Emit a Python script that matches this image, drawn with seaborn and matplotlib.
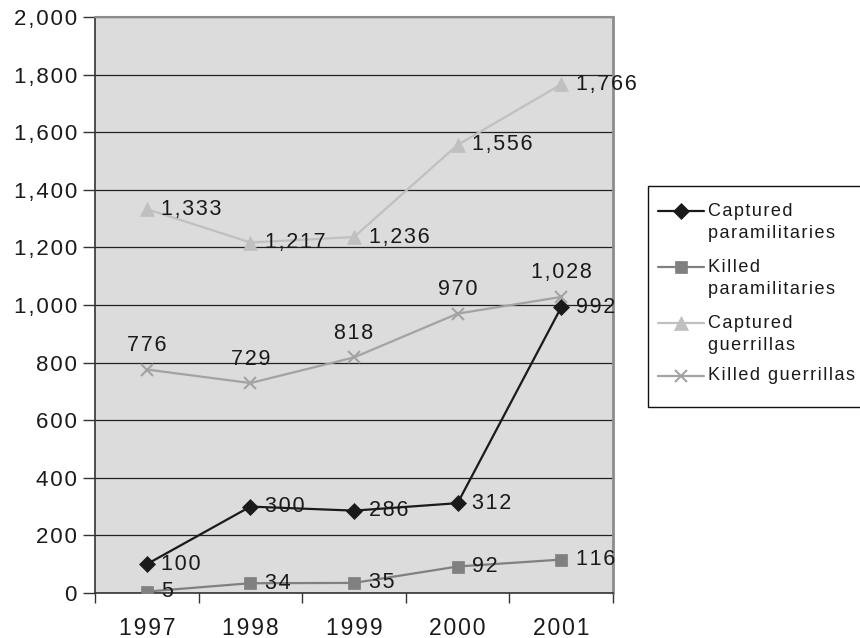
import matplotlib
matplotlib.use("Agg")
import matplotlib.pyplot as plt
import matplotlib.ticker as mticker
from matplotlib.lines import Line2D
from matplotlib.patches import Rectangle
import seaborn as sns
import pandas as pd

years = ["1997", "1998", "1999", "2000", "2001"]
captured_paramilitaries = [100, 300, 286, 312, 992]
killed_paramilitaries = [5, 34, 35, 92, 116]
captured_guerrillas = [1333, 1217, 1236, 1556, 1766]
killed_guerrillas = [776, 729, 818, 970, 1028]

series_names = ["Captured paramilitaries", "Killed paramilitaries",
                "Captured guerrillas", "Killed guerrillas"]
legend_lines = [["Captured", "paramilitaries"], ["Killed", "paramilitaries"],
                ["Captured", "guerrillas"], ["Killed guerrillas"]]
series_values = [captured_paramilitaries, killed_paramilitaries,
                 captured_guerrillas, killed_guerrillas]
colors = ["#1a1a1a", "#808080", "#c0c0c0", "#a3a3a3"]
markers = ["D", "s", "^", "x"]
marker_sizes = [8, 9, 10, 9]

HAIR = "\u200a"


def spaced(s):
    """Widen tracking by putting a hair space between characters."""
    return HAIR.join(s)


rows = []
for name, vals in zip(series_names, series_values):
    for i, v in enumerate(vals):
        rows.append({"pos": i, "value": v, "series": name})
df = pd.DataFrame(rows)

sns.set_theme(style="white")
plt.rcParams["font.family"] = ["Liberation Sans", "DejaVu Sans"]

W, H = 860, 638
fig = plt.figure(figsize=(W / 100, H / 100), dpi=100)
ax = fig.add_axes([95 / W, 45 / H, 518 / W, 576 / H])
ax.set_facecolor("#dcdcdd")

for name, col, mk, ms in zip(series_names, colors, markers, marker_sizes):
    sub = df[df["series"] == name]
    sns.lineplot(data=sub, x="pos", y="value", ax=ax, color=col, marker=mk,
                 markersize=ms, markeredgecolor=col,
                 markeredgewidth=1.5 if mk == "x" else 0.5,
                 linewidth=1.6, legend=False, zorder=3)

# value labels
label_size = 15.5
text_color = "#1a1a1a"
for name, vals in zip(series_names, series_values):
    for i, v in enumerate(vals):
        txt = spaced(f"{v:,}")
        if name == "Killed guerrillas":
            ax.annotate(txt, (i, v), xytext=(0, 13.3), textcoords="offset points",
                        ha="center", va="baseline", fontsize=label_size, color=text_color)
        else:
            ax.annotate(txt, (i, v), xytext=(10.5, 0), textcoords="offset points",
                        ha="left", va="center", fontsize=label_size, color=text_color)

ax.set_xlim(-0.5, 4.5)
ax.set_ylim(0, 2000)
ax.yaxis.set_major_locator(mticker.MultipleLocator(200))
ax.yaxis.set_major_formatter(mticker.FuncFormatter(lambda v, p: spaced(f"{int(v):,}")))
ax.grid(axis="y", color="#222222", linewidth=0.9)
ax.set_axisbelow(True)

ax.set_xticks(range(len(years)))
ax.set_xticklabels([spaced(y) for y in years])
ax.set_xticks([i + 0.5 for i in range(-1, len(years))], minor=True)
ax.tick_params(axis="x", which="major", length=0, pad=17, labelsize=16.5, colors=text_color)
ax.tick_params(axis="x", which="minor", length=7, width=1, color="#333333",
               direction="out", bottom=True)
ax.tick_params(axis="y", length=9, width=1, color="#333333", direction="out", left=True,
               labelsize=16, colors=text_color, pad=4)
ax.set_xlabel("")
ax.set_ylabel("")

for side in ["left", "bottom"]:
    ax.spines[side].set_color("#333333")
    ax.spines[side].set_linewidth(1.2)
ax.spines["right"].set_color("#8c8c8c")
ax.spines["right"].set_linewidth(2)
ax.spines["top"].set_color("#8c8c8c")
ax.spines["top"].set_linewidth(1.5)

# legend box, with each key aligned to the first line of its label
def fx(px):
    return px / W


def fy(py):
    return 1 - py / H


fig.add_artist(Rectangle((fx(648), fy(407)), fx(880) - fx(648), fy(186) - fy(407),
                         transform=fig.transFigure, facecolor="white",
                         edgecolor="#111111", linewidth=1.0))
entry_y = [211, 267, 323, 376]
line_pitch = 22.5
for lines, col, mk, ms, ey in zip(legend_lines, colors, markers, marker_sizes, entry_y):
    fig.add_artist(Line2D([fx(658), fx(704)], [fy(ey), fy(ey)], transform=fig.transFigure,
                          color=col, linewidth=1.6))
    fig.add_artist(Line2D([fx(681)], [fy(ey)], transform=fig.transFigure, color=col,
                          marker=mk, markersize=ms, markeredgecolor=col,
                          markeredgewidth=1.5 if mk == "x" else 0.5, linestyle="none"))
    for k, line in enumerate(lines):
        fig.text(fx(708), fy(ey + k * line_pitch), spaced(line), fontsize=13,
                 color=text_color, ha="left", va="center")

fig.savefig("out.png", dpi=100)
